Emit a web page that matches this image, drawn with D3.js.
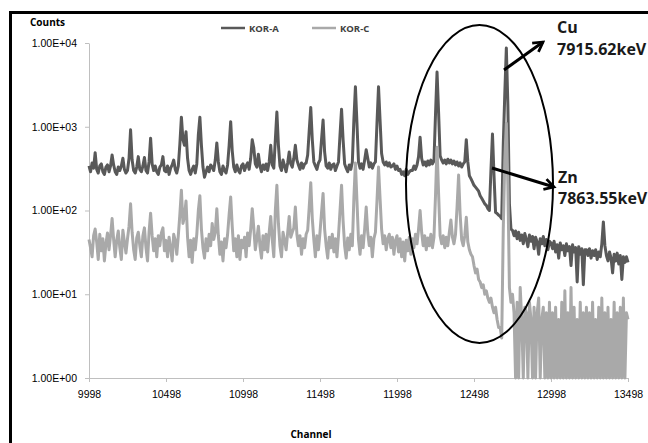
<!DOCTYPE html>
<html>
<head>
<meta charset="utf-8">
<script src="https://cdn.jsdelivr.net/npm/d3@7"></script>
<style>
  body { margin: 0; background: #fff; }
  svg { display: block; font-family: "Open Sans", sans-serif; }
</style>
</head>
<body>
<div id="the_chart"></div>
<script>
// channel axis: one sample every 10 channels
var channelStart = 9998, channelStep = 10;
var xTicks = [9998, 10498, 10998, 11498, 11998, 12498, 12998, 13498];
var yTicks = [1, 10, 100, 1000, 10000];
var seriesNames = ["KOR-A", "KOR-C"];

var korA = [
  340,290,370,320,490, 310,280,340,360,290, 270,330,350,290,340, 460,350,290,270,330, 300,340,420,310,280,
  300,420,920,400,300, 280,330,440,310,290, 340,430,300,280,380, 730,360,300,340,290, 270,330,350,440,300,
  290,340,270,320,350, 400,310,280,340,620, 1300,700,600,870,420, 300,270,310,340,280, 360,800,1300,600,330,
  250,290,330,290,350, 330,300,400,640,380, 290,270,340,300,280, 350,600,1150,520,330, 290,350,300,280,340,
  360,300,340,370,310, 420,700,560,360,330, 470,340,290,350,310, 360,300,380,600,350, 320,700,1500,600,340,
  300,400,340,290,370, 500,360,330,420,600, 400,350,310,370,320, 360,370,460,900,1700, 700,380,340,310,370,
  400,700,1200,500,340, 320,370,310,350,360, 300,340,380,800,1620, 700,360,320,290,350, 310,380,1200,3000,1100,
  380,320,360,310,400, 530,420,330,370,320, 360,380,1100,3000,1200, 480,380,350,380,340, 370,330,340,360,310,
  340,300,310,270,290, 260,310,270,290,300, 300,340,310,350,440, 750,420,350,380,340, 390,350,400,360,390,
  1400,4500,1500,450,400, 370,400,360,410,370, 400,360,390,350,380, 340,370,330,360,380, 700,380,260,240,220,
  200,190,180,170,150, 140,130,120,115,105, 100,300,820,260,95, 92,88,85,80,600, 2500,8700,1800,120,60,
  58,50,57,46,55, 44,51,40,53,45, 37,51,43,49,35, 48,42,30,46,40, 49,38,45,34,43,
  41,35,43,32,39, 27,41,34,38,29, 40,33,37,22,39, 32,36,14,37,30, 35,13,34,34,29,
  35,27,33,29,34, 26,32,28,40,73, 38,29,25,32,27, 18,30,25,31,23, 29,15,28,24,28,
  24
];

var korC = [
  45,36,28,50,60, 42,26,52,33,46, 25,40,54,34,50, 80,45,28,44,57, 36,26,58,42,31,
  46,65,120,55,34, 26,47,55,38,28, 50,62,36,25,55, 93,50,33,46,28, 50,38,54,62,33,
  44,28,48,36,25, 52,44,30,50,90, 175,70,85,130,48, 28,44,24,46,34, 52,100,150,60,36,
  27,46,33,52,38, 70,45,55,105,50, 30,42,25,46,36, 52,90,145,65,33, 46,28,50,26,44,
  36,48,28,54,38, 60,105,62,34,46, 65,38,27,50,34, 52,32,55,85,45, 28,100,200,70,38,
  28,55,44,34,54, 85,48,55,62,110, 52,38,50,30,46, 36,52,58,110,215, 80,45,28,50,34,
  55,95,160,60,38, 27,48,36,52,32, 46,28,50,100,200, 75,38,27,47,34, 52,38,140,370,130,
  45,30,50,36,60, 110,55,38,48,28, 46,55,130,330,140, 60,40,50,34,46, 52,36,48,30,44,
  50,32,46,28,42, 25,44,33,48,30, 46,36,52,40,60, 100,55,38,50,34, 47,38,52,36,48,
  150,570,160,50,40, 50,36,48,38,55, 77,48,40,52,110, 265,90,45,38,50, 83,42,34,30,28,
  22,18,20,15,14, 12,13,10,11,9, 8,9,7,6,7, 5,4,4,3,60, 400,1100,200,12,8,
  10,6,1,8,1, 12,5,1,7,6, 1,8,5,1,7, 1,6,9,1,5, 7,1,6,1,8,
  1,6,1,7,1, 5,1,8,1,11, 1,6,1,12,1, 7,1,5,1,8, 1,6,1,7,1,
  6,1,8,1,5, 1,7,1,9,1, 6,1,7,1,5, 1,8,1,6,1, 7,1,9,1,6,
  5
];

var w = 648, h = 443;
var plotLeft = 89, plotRight = 628, plotTop = 43, plotBottom = 378;

var svg = d3.select("#the_chart")
    .append("svg")
    .attr("width", w)
    .attr("height", h);

// outer frame (runs past the right and bottom edges)
svg.append("rect")
    .attr("x", 10.5).attr("y", 12.5)
    .attr("width", 700).attr("height", 500)
    .attr("fill", "none")
    .attr("stroke", "#000")
    .attr("stroke-width", 3);

var xscale = d3.scaleLinear()
    .domain([9998, 13498])
    .range([plotLeft, plotRight]);

var yscale = d3.scaleLog()
    .domain([1, 10000])
    .range([plotBottom, plotTop]);

var yaxis = d3.axisLeft(yscale)
    .tickValues(yTicks)
    .tickSize(4)
    .tickSizeOuter(0)
    .tickPadding(8)
    .tickFormat(function (d) {
        return "1.00E+" + d3.format("02d")(Math.round(Math.log10(d)));
    });

var xaxis = d3.axisBottom(xscale)
    .tickValues(xTicks)
    .tickSize(4)
    .tickSizeOuter(0)
    .tickPadding(9)
    .tickFormat(d3.format("d"));

var gY = svg.append("g")
    .attr("transform", "translate(" + plotLeft + ",0)")
    .call(yaxis);

var gX = svg.append("g")
    .attr("transform", "translate(0," + plotBottom + ")")
    .call(xaxis);

[gX, gY].forEach(function (g) {
    g.select(".domain").attr("stroke", "#bfbfbf");
    g.selectAll(".tick line").attr("stroke", "#bfbfbf");
    g.selectAll(".tick text")
        .attr("fill", "#000")
        .style("font-size", "10.5px");
});

var line = d3.line()
    .x(function (d, i) { return xscale(channelStart + i * channelStep); })
    .y(function (d) { return yscale(d); });

svg.append("path")
    .datum(korA)
    .attr("fill", "none")
    .attr("stroke", "#595959")
    .attr("stroke-width", 3)
    .attr("stroke-linejoin", "round")
    .attr("d", line);

svg.append("path")
    .datum(korC)
    .attr("fill", "none")
    .attr("stroke", "#a9a9a9")
    .attr("stroke-width", 3)
    .attr("stroke-linejoin", "round")
    .attr("d", line);

// axis titles
svg.append("text")
    .attr("x", 30).attr("y", 26)
    .style("font-size", "10px").style("font-weight", "bold")
    .text("Counts");

svg.append("text")
    .attr("x", 311).attr("y", 438)
    .attr("text-anchor", "middle")
    .style("font-size", "10px").style("font-weight", "bold")
    .text("Channel");

// legend
var legendX = [221, 312];
var legendColors = ["#595959", "#a9a9a9"];
seriesNames.forEach(function (name, i) {
    svg.append("line")
        .attr("x1", legendX[i]).attr("x2", legendX[i] + 24)
        .attr("y1", 28).attr("y2", 28)
        .attr("stroke", legendColors[i])
        .attr("stroke-width", 2.5);
    svg.append("text")
        .attr("x", legendX[i] + 28).attr("y", 31.5)
        .attr("fill", "#404040")
        .style("font-size", "9.5px").style("font-weight", "bold")
        .text(name);
});

// annotations
svg.append("defs").append("marker")
    .attr("id", "arrow")
    .attr("viewBox", "0 0 10 10")
    .attr("refX", 8).attr("refY", 5)
    .attr("markerWidth", 4.5).attr("markerHeight", 4.5)
    .attr("orient", "auto")
    .append("path")
    .attr("d", "M1,1 L8,5 L1,9")
    .attr("fill", "none")
    .attr("stroke", "#000")
    .attr("stroke-width", 2);

svg.append("ellipse")
    .attr("cx", 479.5).attr("cy", 184)
    .attr("rx", 73.5).attr("ry", 159)
    .attr("fill", "none")
    .attr("stroke", "#000")
    .attr("stroke-width", 2);

svg.append("line")
    .attr("x1", 504).attr("y1", 70)
    .attr("x2", 543).attr("y2", 42)
    .attr("stroke", "#000").attr("stroke-width", 3)
    .attr("marker-end", "url(#arrow)");

svg.append("line")
    .attr("x1", 492).attr("y1", 168)
    .attr("x2", 554).attr("y2", 187)
    .attr("stroke", "#000").attr("stroke-width", 3)
    .attr("marker-end", "url(#arrow)");

var notes = [
    { x: 557, y: 33, t: "Cu" },
    { x: 557, y: 55, t: "7915.62keV" },
    { x: 558, y: 183, t: "Zn" },
    { x: 558, y: 204, t: "7863.55keV" }
];
notes.forEach(function (n) {
    svg.append("text")
        .attr("x", n.x).attr("y", n.y)
        .attr("fill", "#1a1a1a")
        .style("font-size", "16px").style("font-weight", "bold")
        .text(n.t);
});
</script>
</body>
</html>
